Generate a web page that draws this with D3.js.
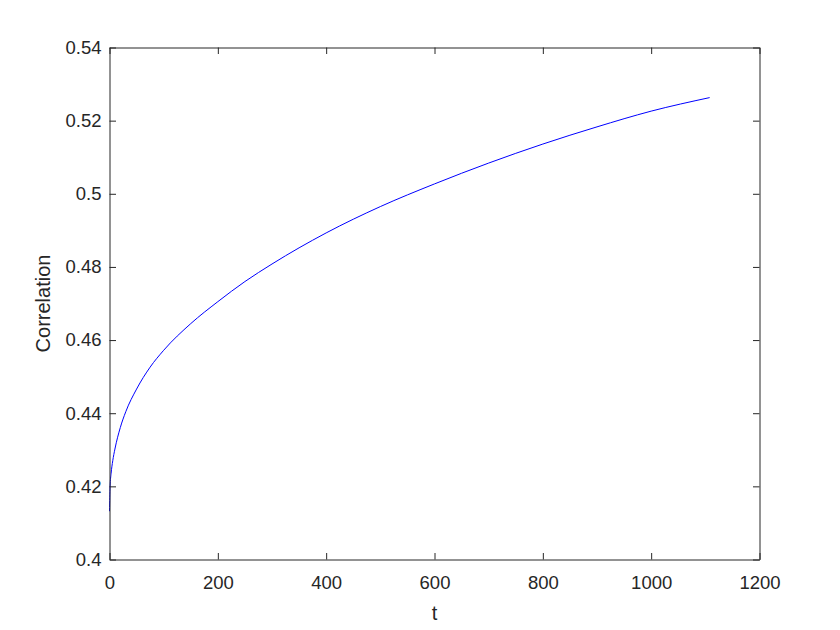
<!DOCTYPE html>
<html>
<head>
<meta charset="utf-8">
<script src="https://cdn.jsdelivr.net/npm/d3@7"></script>
<style>
  html, body { margin: 0; padding: 0; background: #fff; }
  svg { display: block; }
  text { font-family: "Liberation Sans", Arial, Helvetica, sans-serif; fill: #262626; }
</style>
</head>
<body>
<svg id="chart" width="840" height="630"></svg>
<script>
// Data
const tValues = [0, 1, 3, 6, 10, 20, 30, 50, 75, 100, 150, 200, 250, 300, 400, 500, 600, 700, 800, 900, 1000, 1108];
const correlation = [0.4132, 0.4198, 0.4236, 0.4270, 0.4302, 0.4361, 0.4404, 0.4466, 0.4526, 0.4572, 0.4645, 0.4705, 0.4760, 0.4808, 0.4893, 0.4965, 0.5027, 0.5084, 0.5136, 0.5183, 0.5226, 0.5263];
const xTicks = [0, 200, 400, 600, 800, 1000, 1200];
const yTicks = [0.4, 0.42, 0.44, 0.46, 0.48, 0.5, 0.52, 0.54];
const xLabel = "t";
const yLabel = "Correlation";

(function () {
const svg = d3.select("#chart");
const pLeft = 109.5, pRight = 759.5, pTop = 47.5, pBottom = 559.5;
const axisColor = "#262626";
const tickLen = 6.5;

const x = d3.scaleLinear().domain([0, 1200]).range([pLeft, pRight]);
const y = d3.scaleLinear().domain([0.4, 0.54]).range([pBottom, pTop]);

const fmtY = d => String(+d.toFixed(2));
const fmtX = d => String(d);

// Line
const line = d3.line()
  .x((d, i) => x(tValues[i]))
  .y(d => y(d))
  .curve(d3.curveMonotoneX);

svg.append("path")
  .datum(correlation)
  .attr("d", line)
  .attr("fill", "none")
  .attr("stroke", "#0000ff")
  .attr("stroke-width", 1);

// Axes (MATLAB style: box with inward ticks)
const bottomAxis = d3.axisBottom(x).tickValues(xTicks).tickSizeInner(-tickLen).tickSizeOuter(0).tickPadding(16).tickFormat(fmtX);
const topAxis = d3.axisTop(x).tickValues(xTicks).tickSizeInner(-tickLen).tickSizeOuter(0).tickFormat("");
const leftAxis = d3.axisLeft(y).tickValues(yTicks).tickSizeInner(-tickLen).tickSizeOuter(0).tickPadding(8).tickFormat(fmtY);
const rightAxis = d3.axisRight(y).tickValues(yTicks).tickSizeInner(-tickLen).tickSizeOuter(0).tickFormat("");

function styleAxis(g) {
  g.select(".domain").attr("stroke", axisColor).attr("stroke-width", 1);
  g.selectAll(".tick line").attr("stroke", axisColor).attr("stroke-width", 1);
  g.selectAll(".tick text")
    .attr("fill", axisColor)
    .style("font-family", '"Liberation Sans", Arial, Helvetica, sans-serif')
    .style("font-size", "18.5px");
}

svg.append("g").attr("transform", `translate(0,${pBottom})`).call(bottomAxis).call(styleAxis);
svg.append("g").attr("transform", `translate(0,${pTop})`).call(topAxis).call(styleAxis);
svg.append("g").attr("transform", `translate(${pLeft},0)`).call(leftAxis).call(styleAxis);
svg.append("g").attr("transform", `translate(${pRight},0)`).call(rightAxis).call(styleAxis);

// Axis labels
svg.append("text")
  .attr("x", (pLeft + pRight) / 2)
  .attr("y", 620)
  .attr("text-anchor", "middle")
  .style("font-size", "20px")
  .text(xLabel);

svg.append("text")
  .attr("transform", `translate(50,${(pTop + pBottom) / 2}) rotate(-90)`)
  .attr("text-anchor", "middle")
  .style("font-size", "20px")
  .text(yLabel);
})();
</script>
</body>
</html>
